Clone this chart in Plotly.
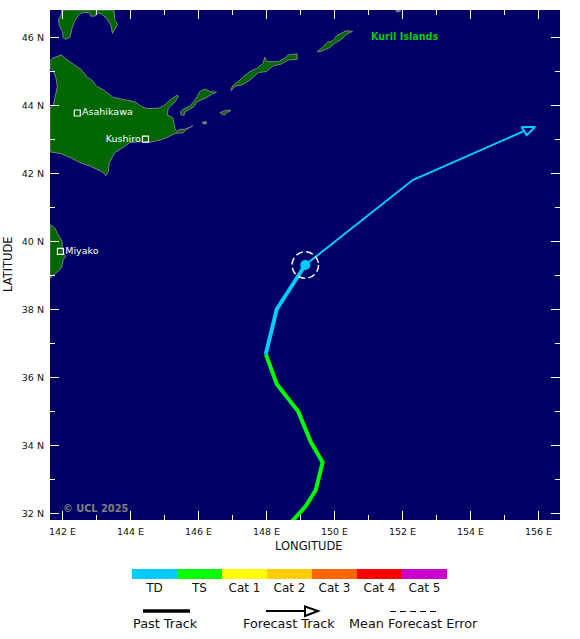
import plotly.graph_objects as go

# map window (degrees)
lon_range = [141.632, 156.632]
lat_range = [31.8, 46.8]
lon_ticks = [142, 144, 146, 148, 150, 152, 154, 156]
lon_labels = ["142 E", "144 E", "146 E", "148 E", "150 E", "152 E", "154 E", "156 E"]
lat_ticks = [32, 34, 36, 38, 40, 42, 44, 46]
lat_labels = ["32 N", "34 N", "36 N", "38 N", "40 N", "42 N", "44 N", "46 N"]

# coastlines
hokkaido_lon = [141.63, 141.71, 141.83, 141.975, 142.07, 142.22, 142.37, 142.56, 142.71, 142.86, 143.0, 143.2,
                143.49, 143.79, 144.13, 144.33, 144.48, 144.82, 144.97, 145.16, 145.36, 145.41, 145.31, 145.11,
                145.08, 145.24, 145.31, 145.36, 145.46, 145.6, 145.83, 145.65, 145.55, 145.31, 145.11, 144.92,
                144.67, 144.48, 144.28, 143.98, 143.74, 143.54, 143.37, 143.35, 143.28, 143.15, 142.81, 142.51,
                142.27, 141.975, 141.63, 141.63, 141.73, 141.81, 141.85, 141.81, 141.73, 141.63, 141.63]
hokkaido_lat = [45.28, 45.38, 45.43, 45.48, 45.38, 45.28, 45.18, 45.04, 44.84, 44.74, 44.56, 44.45,
                44.23, 44.17, 44.10, 43.96, 43.9, 43.91, 43.98, 44.15, 44.29, 44.27, 44.10, 43.91,
                43.71, 43.64, 43.32, 43.22, 43.29, 43.29, 43.39, 43.29, 43.19, 43.17, 43.07, 42.99,
                42.93, 42.9, 42.93, 42.9, 42.73, 42.61, 42.29, 42.05, 41.93, 42.05, 42.21, 42.31,
                42.44, 42.57, 42.63, 43.91, 44.0, 44.35, 44.55, 44.79, 45.02, 45.09, 45.28]
sakhalin_lon = [141.985, 141.955, 141.88, 141.91, 142.0, 142.02, 142.10, 142.22, 142.28, 142.36, 142.5, 142.61,
                142.79, 142.83, 142.96, 143.0, 143.15, 143.3, 143.42, 143.47, 143.51, 143.62, 143.54, 143.51, 141.985]
sakhalin_lat = [46.80, 46.65, 46.51, 46.33, 46.16, 45.99, 45.94, 46.0, 46.26, 46.49, 46.68, 46.73,
                46.72, 46.62, 46.62, 46.72, 46.68, 46.55, 46.36, 46.11, 46.19, 46.38, 46.51, 46.80, 46.80]
honshu_lon = [141.65, 141.78, 141.85, 141.93, 141.99, 141.99, 142.09, 142.02, 141.98, 141.91, 141.78, 141.68, 141.63, 141.63, 141.65]
honshu_lat = [40.48, 40.38, 40.23, 40.08, 39.99, 39.74, 39.55, 39.45, 39.25, 39.15, 39.03, 38.95, 38.91, 40.48, 40.48]
kunashir_lon = [145.47, 145.55, 145.75, 145.90, 146.04, 146.19, 146.34, 146.53, 146.39, 146.19, 145.95, 145.87, 145.70, 145.60, 145.58, 145.49, 145.47]
kunashir_lat = [43.81, 43.88, 43.98, 44.15, 44.40, 44.48, 44.40, 44.38, 44.32, 44.20, 44.10, 43.96, 43.86, 43.81, 43.71, 43.71, 43.81]
shikotan_lon = [146.63, 146.78, 146.94, 146.92, 146.81, 146.78, 146.68, 146.63]
shikotan_lat = [43.78, 43.84, 43.86, 43.81, 43.79, 43.71, 43.74, 43.78]
iturup_lon = [146.94, 147.02, 147.22, 147.32, 147.51, 147.71, 147.90, 147.95, 148.02, 148.35, 148.54, 148.64,
              148.90, 148.90, 148.64, 148.44, 148.20, 148.0, 147.76, 147.51, 147.27, 147.07, 146.97, 146.94]
iturup_lat = [44.45, 44.59, 44.74, 44.84, 44.99, 45.08, 45.23, 45.41, 45.28, 45.28, 45.38, 45.48,
              45.51, 45.35, 45.33, 45.21, 45.16, 44.99, 44.96, 44.74, 44.59, 44.56, 44.43, 44.45]
urup_lon = [149.49, 149.67, 149.77, 149.96, 150.06, 150.26, 150.34, 150.53, 150.36, 150.21, 150.01, 149.82, 149.62, 149.49]
urup_lat = [45.57, 45.72, 45.84, 45.90, 46.04, 46.13, 46.19, 46.17, 46.09, 45.94, 45.82, 45.67, 45.59, 45.57]
islet_a_lon = [146.11, 146.24, 146.22, 146.14, 146.11]
islet_a_lat = [43.50, 43.51, 43.45, 43.45, 43.50]
islet_b_lon = [151.81, 151.93, 151.93, 151.81, 151.81]
islet_b_lat = [46.80, 46.80, 46.75, 46.75, 46.80]

# cities
city_names = ["Asahikawa", "Kushiro", "Miyako"]
city_lon = [142.435, 144.44, 141.94]
city_lat = [43.77, 43.0, 39.70]
city_pos = ["middle right", "middle left", "middle right"]

# storm track
ts_lon = [148.6, 148.78, 149.15, 149.45, 149.65, 149.3, 148.93, 148.3, 147.98]
ts_lat = [31.6, 31.8, 32.2, 32.68, 33.5, 34.1, 35.0, 35.8, 36.68]
td_lon = [147.98, 148.3, 149.14]
td_lat = [36.68, 38.0, 39.3]
now_lon = 149.14
now_lat = 39.3
error_radius = 0.39
forecast_lon = [149.14, 152.3, 155.6]
forecast_lat = [39.3, 41.8, 43.25]
head_lon = [155.5, 155.9, 155.65, 155.5]
head_lat = [43.36, 43.36, 43.12, 43.36]

# intensity scale
cat_names = ["TD", "TS", "Cat 1", "Cat 2", "Cat 3", "Cat 4", "Cat 5"]
cat_colors = ["#00ccff", "#00ff00", "#ffff00", "#ffcc00", "#ff6600", "#ff0000", "#cc00cc"]
cat_size = [1, 1, 1, 1, 1, 1, 1]

LAND = "#006600"
COAST = "#808080"
SEA = "#000066"
FONT = "DejaVu Sans"

W, H = 580, 639
ML, MR, MT, MB = 50, 20, 10, 55
plot_w = W - ML - MR
plot_h = H - MT - MB


def px(x):
    return (x - ML) / plot_w


def py(y):
    return (H - MB - y) / plot_h


fig = go.Figure()

for lons, lats in [(hokkaido_lon, hokkaido_lat), (sakhalin_lon, sakhalin_lat), (honshu_lon, honshu_lat),
                   (kunashir_lon, kunashir_lat), (iturup_lon, iturup_lat), (urup_lon, urup_lat),
                   (shikotan_lon, shikotan_lat)]:
    fig.add_trace(go.Scatter(x=lons, y=lats, mode="lines", fill="toself", fillcolor=LAND,
                             line=dict(color=COAST, width=1), hoverinfo="skip"))
for lons, lats in [(islet_a_lon, islet_a_lat), (islet_b_lon, islet_b_lat)]:
    fig.add_trace(go.Scatter(x=lons, y=lats, mode="lines", fill="toself", fillcolor=COAST,
                             line=dict(color=COAST, width=1), hoverinfo="skip"))

fig.add_trace(go.Scatter(x=city_lon, y=city_lat, mode="markers+text", text=city_names, textposition=city_pos,
                         textfont=dict(family=FONT, size=9.5, color="white"),
                         marker=dict(symbol="square-open", size=6, color="white", line=dict(width=1.2, color="white"))))

fig.add_trace(go.Scatter(x=forecast_lon, y=forecast_lat, mode="lines", line=dict(color=cat_colors[0], width=2)))
fig.add_trace(go.Scatter(x=head_lon, y=head_lat, mode="lines", line=dict(color=cat_colors[0], width=2)))
fig.add_trace(go.Scatter(x=ts_lon, y=ts_lat, mode="lines", line=dict(color=cat_colors[1], width=4)))
fig.add_trace(go.Scatter(x=td_lon, y=td_lat, mode="lines", line=dict(color=cat_colors[0], width=4)))
fig.add_trace(go.Scatter(x=[now_lon], y=[now_lat], mode="markers", marker=dict(color=cat_colors[0], size=10)))

fig.add_shape(type="circle", xref="x", yref="y", x0=now_lon - error_radius, x1=now_lon + error_radius,
              y0=now_lat - error_radius, y1=now_lat + error_radius,
              line=dict(color="white", width=1.5, dash="7px,3.5px"))

# colour scale as a small second axis
fig.add_trace(go.Bar(x=cat_names, y=cat_size, marker=dict(color=cat_colors, line=dict(width=0)),
                     width=1, xaxis="x2", yaxis="y2", hoverinfo="skip"))

tick_common = dict(ticks="inside", tickcolor="white", ticklen=9, tickwidth=1, mirror="ticks", showgrid=False,
                   zeroline=False, showline=False, tickmode="array", automargin=False,
                   tickfont=dict(family=FONT, size=9.5, color="#111111"),
                   minor=dict(ticks="inside", ticklen=5, tickwidth=1, tickcolor="white", dtick=1, showgrid=False))

fig.update_layout(
    width=W, height=H, margin=dict(l=ML, r=MR, t=MT, b=MB, pad=0),
    showlegend=False, paper_bgcolor="white", plot_bgcolor=SEA, bargap=0,
    font=dict(family=FONT, color="#111111"),
    xaxis=dict(tick_common, range=lon_range, domain=[0, 1], tickvals=lon_ticks, ticktext=lon_labels, anchor="y",
               ticklabelstandoff=4),
    yaxis=dict(tick_common, range=lat_range, domain=[py(520), py(10)], tickvals=lat_ticks, ticktext=lat_labels, anchor="x",
               ticklabelstandoff=5),
    xaxis2=dict(domain=[px(132), px(447)], anchor="y2", showgrid=False, zeroline=False, showline=False, ticks="",
                automargin=False, tickfont=dict(family=FONT, size=12, color="#111111")),
    yaxis2=dict(domain=[py(579), py(569)], anchor="x2", range=[0, 1], visible=False),
)

fig.add_annotation(xref="paper", yref="paper", x=px(309), y=py(546), text="LONGITUDE", showarrow=False,
                   xanchor="center", yanchor="middle", font=dict(family=FONT, size=11.5, color="#111111"))
fig.add_annotation(xref="paper", yref="paper", x=px(8), y=py(264), text="LATITUDE", showarrow=False, textangle=-90,
                   xanchor="center", yanchor="middle", font=dict(family=FONT, size=11.5, color="#111111"))

fig.add_annotation(x=152.06, y=46.02, text="<b>Kuril Islands</b>", showarrow=False, xanchor="center",
                   font=dict(family=FONT, size=9.6, color="#00cc00"))
fig.add_annotation(x=142.96, y=32.15, text="<b>© UCL 2025</b>", showarrow=False, xanchor="center",
                   font=dict(family=FONT, size=9.8, color="#808080"))

# track key under the colour scale
fig.add_shape(type="line", xref="paper", yref="paper", x0=px(143), x1=px(190), y0=py(611), y1=py(611),
              line=dict(color="black", width=3.5))
fig.add_shape(type="line", xref="paper", yref="paper", x0=px(266), x1=px(305), y0=py(611), y1=py(611),
              line=dict(color="black", width=2))
fig.add_shape(type="path", xref="paper", yref="paper",
              path=f"M {px(305)} {py(606.5)} L {px(318)} {py(611)} L {px(305)} {py(616)} Z",
              line=dict(color="black", width=2))
fig.add_shape(type="line", xref="paper", yref="paper", x0=px(390), x1=px(436), y0=py(611.5), y1=py(611.5),
              line=dict(color="black", width=1, dash="6px,4px"))
for label, cx in [("Past Track", 165), ("Forecast Track", 288.5), ("Mean Forecast Error", 413)]:
    fig.add_annotation(xref="paper", yref="paper", x=px(cx), y=py(623.5), text=label, showarrow=False,
                       xanchor="center", yanchor="middle", font=dict(family=FONT, size=12.8, color="#111111"))

# page body margin would push the figure 8px in and cut the LATITUDE label
fig.write_html("out.html", config={"displayModeBar": False}, post_script="document.body.style.margin = '0';")
